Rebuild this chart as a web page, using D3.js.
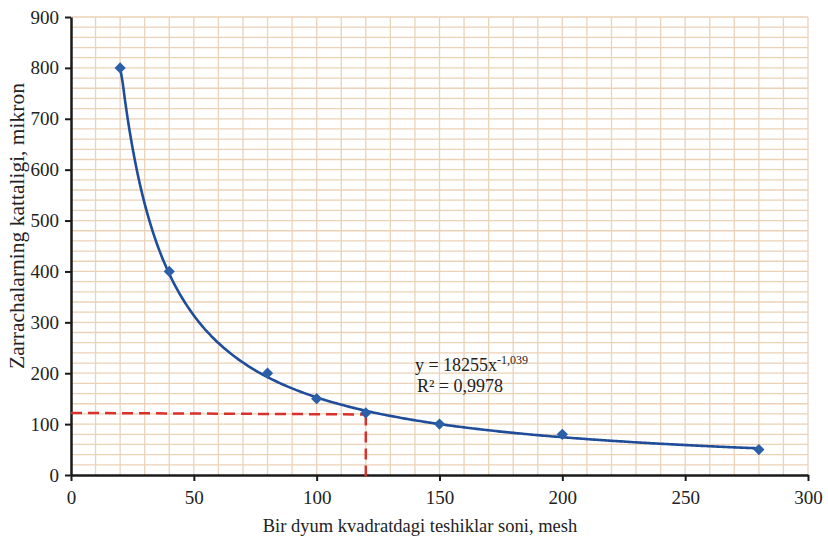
<!DOCTYPE html>
<html>
<head>
<meta charset="utf-8">
<script src="https://cdn.jsdelivr.net/npm/d3@7"></script>
<style>
  body { margin: 0; background: #fff; }
  svg { display: block; font-family: "Liberation Serif", "DejaVu Serif", serif; }
</style>
</head>
<body>
<div id="chart"></div>
<script>
// measured points
const meshValues = [20, 40, 80, 100, 120, 150, 200, 280];
const sizeValues = [800, 400, 200, 150, 122, 100, 80, 50];
// power trendline shown on the chart: y = a * x^b
const fitA = 18255;
const fitB = -1.039;
const fitLabel = "y = 18255x";
const fitExp = "-1,039";
const r2Label = "R² = 0,9978";
// reading marked by the red dashes
const markX = 120;
const markY = 122;

const xTicks = [0, 50, 100, 150, 200, 250, 300];
const yTicks = [0, 100, 200, 300, 400, 500, 600, 700, 800, 900];

const W = 828, H = 539;
const margin = { top: 17, right: 20, bottom: 64, left: 71 };
const width = W - margin.left - margin.right;
const height = H - margin.top - margin.bottom;

const svg = d3.select('#chart').append('svg')
    .attr('width', W)
    .attr('height', H);
const g = svg.append('g')
    .attr('transform', `translate(${margin.left},${margin.top})`);

const x = d3.scaleLinear().domain([0, 300]).range([0, width]);
const y = d3.scaleLinear().domain([0, 900]).range([height, 0]);

// grid
g.append('g').selectAll('line')
    .data(d3.range(10, 301, 10))
    .enter().append('line')
    .attr('x1', d => x(d)).attr('x2', d => x(d))
    .attr('y1', 0).attr('y2', height)
    .attr('stroke', '#e8d3bd').attr('stroke-width', 1.3);
g.append('g').selectAll('line')
    .data(d3.range(20, 901, 20))
    .enter().append('line')
    .attr('x1', 0).attr('x2', width)
    .attr('y1', d => y(d)).attr('y2', d => y(d))
    .attr('stroke', '#ebd2b6').attr('stroke-width', 1.3);

// axes
const xAxis = g.append('g')
    .attr('transform', `translate(0,${height})`)
    .call(d3.axisBottom(x).tickValues(xTicks).tickSize(6).tickSizeOuter(0).tickPadding(10));
const yAxis = g.append('g')
    .call(d3.axisLeft(y).tickValues(yTicks).tickSize(6).tickSizeOuter(0).tickPadding(6));
[xAxis, yAxis].forEach(a => {
    a.select('.domain').attr('stroke', '#1a1a1a').attr('stroke-width', 2.5);
    a.selectAll('.tick line').attr('stroke', '#1a1a1a').attr('stroke-width', 2);
    a.selectAll('.tick text')
        .attr('fill', '#222')
        .style('font-family', '"Liberation Serif", serif')
        .style('font-size', '19px');
});

// red dashed reading lines
g.append('line')
    .attr('x1', x(0)).attr('x2', x(markX))
    .attr('y1', y(markY)).attr('y2', y(markY - 3))
    .attr('stroke', '#d8322c').attr('stroke-width', 2.5)
    .attr('stroke-dasharray', '11,6');
g.append('line')
    .attr('x1', x(markX)).attr('x2', x(markX))
    .attr('y1', y(markY - 3)).attr('y2', height + 3)
    .attr('stroke', '#d8322c').attr('stroke-width', 2.5)
    .attr('stroke-dasharray', '11,6');

// trendline
const xMin = d3.min(meshValues), xMax = d3.max(meshValues);
const curveX = d3.range(xMin, xMax + 0.5, 1);
const line = d3.line()
    .x(d => x(d))
    .y(d => y(Math.min(800, fitA * Math.pow(d, fitB))))
    .curve(d3.curveMonotoneX);
g.append('path')
    .datum(curveX)
    .attr('fill', 'none')
    .attr('stroke', '#1f4d99')
    .attr('stroke-width', 2.6)
    .attr('d', line);

// markers
const pts = meshValues.map((m, i) => ({ m: m, s: sizeValues[i] }));
g.selectAll('.pt')
    .data(pts)
    .enter().append('path')
    .attr('class', 'pt')
    .attr('transform', d => `translate(${x(d.m)},${y(d.s)})`)
    .attr('d', d3.symbol().type(d3.symbolDiamond2).size(80))
    .attr('fill', '#2b5fa8');

// equation
const eq = g.append('text')
    .attr('x', x(140))
    .attr('y', y(205))
    .attr('fill', '#222')
    .style('font-size', '18px');
eq.append('tspan').text(fitLabel);
eq.append('tspan').attr('dy', -7).style('font-size', '12px').text(fitExp);
g.append('text')
    .attr('x', x(140.8))
    .attr('y', y(163))
    .attr('fill', '#222')
    .style('font-size', '18px')
    .text(r2Label);

// axis titles
svg.append('text')
    .attr('x', 420)
    .attr('y', H - 7)
    .attr('text-anchor', 'middle')
    .attr('fill', '#222')
    .style('font-size', '18.5px')
    .text('Bir dyum kvadratdagi teshiklar soni, mesh');
svg.append('text')
    .attr('transform', 'rotate(-90)')
    .attr('x', -226)
    .attr('y', 24)
    .attr('text-anchor', 'middle')
    .attr('fill', '#222')
    .style('font-size', '21.5px')
    .text('Zarrachalarning kattaligi, mikron');
</script>
</body>
</html>
